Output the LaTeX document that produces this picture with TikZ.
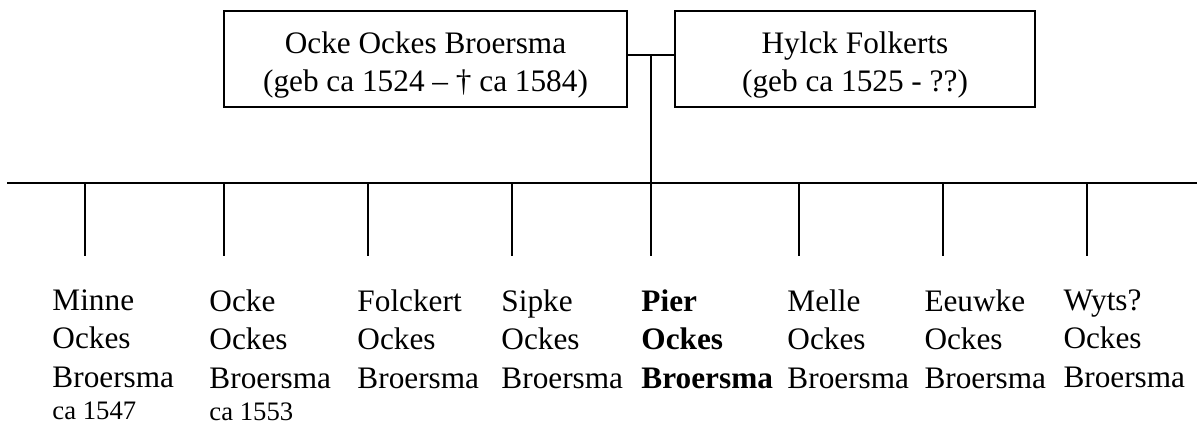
\documentclass[tikz,border=0pt]{standalone}
\usepackage{fontspec}
\setmainfont{Liberation Serif}
\usetikzlibrary{calc}
\tikzset{
  stamboxe/.style={draw, line width=0.6pt, inner sep=0pt, align=center, font=\fontsize{12.9}{15.9}\selectfont},
  kindnaam/.style={anchor=north west, inner sep=0pt, align=left, font=\fontsize{12.9}{15.9}\selectfont},
  lijn/.style={line width=0.6pt}
}
\newcommand{\jaartal}[1]{{\fontsize{11}{15.9}\selectfont #1}}
\newcommand{\bovenruimte}{\rule{0pt}{14pt}}

\begin{document}
\begin{tikzpicture}[x=0.0145cm, y=-0.0145cm]
			%%%%% START %%%%%
			\useasboundingbox (0, 0) rectangle (1197, 429);
			
			\node[stamboxe, minimum width=5.8435cm, minimum height=1.392cm] (ocke) at (425.5, 59) {\bovenruimte Ocke Ockes Broersma\\(geb ca 1524 -- \textdagger{} ca 1584)};
			\node[stamboxe, minimum width=5.22cm, minimum height=1.392cm] (hylck) at (855, 59) {\bovenruimte Hylck Folkerts\\(geb ca 1525 - ??)};
			
			\coordinate (huwelijk) at (651, 55);
			\coordinate (stam) at (651, 183);
			\coordinate (stamlinks) at (7, 183);
			\coordinate (stamrechts) at (1197, 183);
			
			\draw[lijn] (ocke.east |- huwelijk) -- (hylck.west |- huwelijk);
			\draw[lijn] (huwelijk) -- (stam);
			\draw[lijn] (stamlinks) -- (stamrechts);
			
			\node[kindnaam] (minne) at (52, 289) {Minne\\Ockes\\Broersma\\[-2.5pt]\jaartal{ca 1547}};
			\node[kindnaam] (ockejr) at (209, 289) {Ocke\\Ockes\\Broersma\\[-2.5pt]\jaartal{ca 1553}};
			\node[kindnaam] (folckert) at (357, 289) {Folckert\\Ockes\\Broersma};
			\node[kindnaam] (sipke) at (501, 289) {Sipke\\Ockes\\Broersma};
			\node[kindnaam] (pier) at (641, 289) {\textbf{Pier}\\\textbf{Ockes}\\\textbf{Broersma}};
			\node[kindnaam] (melle) at (787, 289) {Melle\\Ockes\\Broersma};
			\node[kindnaam] (eeuwke) at (924, 289) {Eeuwke\\Ockes\\Broersma};
			\node[kindnaam] (wyts) at (1063, 289) {Wyts?\\Ockes\\Broersma};
			
			\draw[lijn] (85, 183) -- (85, 256);
			\draw[lijn] (224, 183) -- (224, 256);
			\draw[lijn] (368, 183) -- (368, 256);
			\draw[lijn] (512, 183) -- (512, 256);
			\draw[lijn] (stam) -- (651, 256);
			\draw[lijn] (799, 183) -- (799, 256);
			\draw[lijn] (943, 183) -- (943, 256);
			\draw[lijn] (1087, 183) -- (1087, 256);
			
			%%%%% END %%%%%
\end{tikzpicture}
\end{document}
